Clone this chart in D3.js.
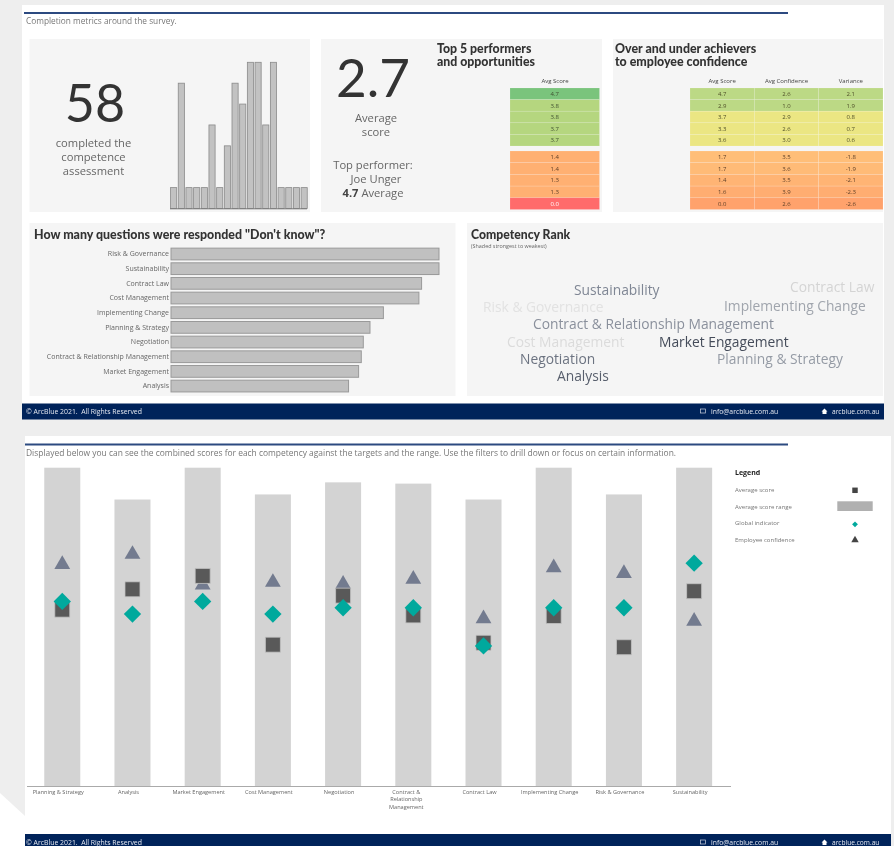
<!DOCTYPE html>
<html><head><meta charset="utf-8">
<script src="https://cdnjs.cloudflare.com/ajax/libs/d3/7.8.5/d3.min.js"></script>
<style>html,body{margin:0;padding:0;background:#eee;overflow:hidden}svg{display:block;filter:blur(.4px)}text{font-family:"Open Sans",sans-serif}.t{font-family:Lato,sans-serif}</style>
</head><body><svg id="c" width="894" height="846"></svg>
<script>
// ---- data ----
const completionBins = [1,6,1,1,1,4,1,3,6,5,7,7,4,7,1,1,1,1];
const completedCount = "58";
const averageScore = "2.7";
const topScores = [4.7,3.8,3.8,3.7,3.7];
const lowScores = [1.4,1.4,1.3,1.3,0.0];
const overScore = [4.7,2.9,3.7,3.3,3.6];
const overConfidence = [2.6,1.0,2.9,2.6,3.0];
const overVariance = [2.1,1.9,0.8,0.7,0.6];
const underScore = [1.7,1.7,1.4,1.6,0.0];
const underConfidence = [3.5,3.6,3.5,3.9,2.6];
const underVariance = [-1.8,-1.9,-2.1,-2.3,-2.6];
const dkCategories = ["Risk & Governance","Sustainability","Contract Law","Cost Management","Implementing Change","Planning & Strategy","Negotiation","Contract & Relationship Management","Market Engagement","Analysis"];
const dkValues = [40,40,37.4,37,31.7,29.7,28.7,28.4,28,26.5];
const rankOrder = ["Market Engagement","Analysis","Negotiation","Sustainability","Contract & Relationship Management","Planning & Strategy","Implementing Change","Contract Law","Cost Management","Risk & Governance"];
const competencies = ["Planning & Strategy","Analysis","Market Engagement","Cost Management","Negotiation","Contract & Relationship Management","Contract Law","Implementing Change","Risk & Governance","Sustainability"];
const rangeMax = [5,4.5,5,4.58,4.77,4.75,4.5,5,4.58,5];
const avgScore = [2.77,3.09,3.3,2.22,2.99,2.68,2.25,2.67,2.18,3.06];
const globalIndicator = [2.9,2.7,2.9,2.7,2.8,2.8,2.2,2.8,2.8,3.5];
const confidence = [3.48,3.64,3.16,3.2,3.17,3.25,2.63,3.43,3.34,2.59];
const legendLabels = ["Average score","Average score range","Global indicator","Employee confidence"];

// ---- word placement (layout only) ----
const wordPlace = {
 "Sustainability":[574,295],"Contract Law":[790,292],"Risk & Governance":[483,312],"Implementing Change":[724,311],
 "Contract & Relationship Management":[533,329],"Cost Management":[507,347],"Market Engagement":[659,347],
 "Negotiation":[520,364],"Planning & Strategy":[717,364],"Analysis":[557,381]};

const svg = d3.select("#c");
const NAVY="#00235a", CARD="#f5f5f5", TXT="#666";
function rect(x,y,w,h,f){return svg.append("rect").attr("x",x).attr("y",y).attr("width",w).attr("height",h).attr("fill",f);}
function text(x,y,s,size,col,anchor,weight){return svg.append("text").attr("x",x).attr("y",y).text(s).attr("font-size",size).attr("fill",col||TXT).attr("text-anchor",anchor||"start").attr("font-weight",weight||400);}
function title(x,y,s,size){return text(x,y,s,size,"#333","start",900).attr("class","t");}
function title2(x,y,lines,size){
  const t=title(x,y,"",size);
  lines.forEach((s,i)=>t.append("tspan").attr("x",x).attr("y",y+i*13).text(s));
}

// page
svg.append("path").attr("d","M0,793L25,816L25,846L0,846Z").attr("fill","#fff");
rect(22,5,862,399,"#fff");
rect(25,436,866,398,"#fff");
rect(24,12,764,2,"#2c4a80");
rect(25,443.5,763,2,"#2c4a80");
text(26,23.5,"Completion metrics around the survey.",8.3,"#777");
text(26,456,"Displayed below you can see the combined scores for each competency against the targets and the range. Use the filters to drill down or focus on certain information.",8.43,"#777");

// cards
[[29.5,39,280.5,173],[321,39,281,173],[613,39,270,173],[29.5,223,426,173],[467,223,416,173]].forEach(c=>rect(c[0],c[1],c[2],c[3],CARD));

// footers
function footer(x,y,w,h,base){
  rect(x,y,w,h,NAVY);
  text(26,base,"© ArcBlue 2021.\u00a0\u00a0All Rights Reserved",6.9,"#e4e8f0");
  text(711,base,"info@arcblue.com.au",6.8,"#e4e8f0");
  text(832,base,"arcblue.com.au",6.6,"#e4e8f0");
  svg.append("rect").attr("x",700.5).attr("y",base-5).attr("width",5).attr("height",4).attr("fill","none").attr("stroke","#cdd3df").attr("stroke-width",.7);
  svg.append("path").attr("d",`M821.5,${base-2.5}L824.5,${base-5.5}L827.5,${base-2.5}L826.5,${base-2.5}L826.5,${base}L822.5,${base}L822.5,${base-2.5}Z`).attr("fill","#fff");
}
footer(22,403.5,862,16,414);
footer(25,834,866,12,845);

// card 1
text(95,122,completedCount,52,"#333","middle",400).attr("class","t");
["completed the","competence","assessment"].forEach((s,i)=>text(93.5,147+i*14,s,11.2,TXT,"middle"));
const hx=d3.scaleBand().domain(d3.range(completionBins.length)).range([169.8,308]).paddingInner(.2).paddingOuter(.1);
const hy=d3.scaleLinear().domain([0,7]).range([208.5,62.3]);
svg.append("g").selectAll("rect").data(completionBins).join("rect")
 .attr("x",(d,i)=>hx(i)).attr("y",d=>hy(d)).attr("width",hx.bandwidth()).attr("height",d=>hy(0)-hy(d))
 .attr("fill","#c2c2c2").attr("stroke","#8a8a8a").attr("stroke-width",.8);
svg.append("line").attr("x1",170).attr("x2",307).attr("y1",208.8).attr("y2",208.8).attr("stroke","#777").attr("stroke-width",1);

// card 2
text(373,97,averageScore,53,"#333","middle",400).attr("class","t");
["Average","score"].forEach((s,i)=>text(376,122+i*14,s,11.2,TXT,"middle"));
text(373,169,"Top performer:",11.2,TXT,"middle");
text(376,183,"Joe Unger",11.2,TXT,"middle");
const tp=text(373,197,"",11.2,TXT,"middle");
tp.append("tspan").text("4.7").attr("font-weight",700).attr("fill","#444");
tp.append("tspan").text(" Average");
title2(437,53,["Top 5 performers","and opportunities"],12.3);
title2(615,53,["Over and under achievers","to employee confidence"],12.4);

const scoreCol=d3.scaleThreshold().domain([0.5,2,4]).range(["#ff6b6b","#ffb072","#b5d67f","#7ac47c"]);
function column(vals,x,w,y0,y1,colour,txtCol){
  const y=d3.scaleBand().domain(d3.range(vals.length)).range([y0,y1]);
  const g=svg.append("g");
  g.selectAll("rect").data(vals).join("rect").attr("x",x).attr("width",w).attr("y",(d,i)=>y(i)).attr("height",y.bandwidth())
    .attr("fill",colour).attr("stroke","#fff").attr("stroke-opacity",.22).attr("stroke-width",.6);
  g.selectAll("text").data(vals).join("text").attr("x",x+w/2).attr("y",(d,i)=>y(i)+y.bandwidth()/2+2.2).attr("text-anchor","middle")
    .attr("font-size",6).attr("fill",txtCol).text(d=>d.toFixed(1));
}
text(555,83,"Avg Score",6,"#444","middle");
column(topScores,510,89.5,88,146,(d,i)=>scoreCol(d),"#3f4f30");
column(lowScores,510,89.5,151,209.5,d=>scoreCol(d),d=>d===0?"#fff":"#5f4028");

const varCol=v=>v<0?d3.scaleLinear().domain([-2.6,-1.8]).range(["#ffa26c","#ffbe78"])(v):(v>=1?"#bcd985":"#ebe683");
const colX=d3.scaleBand().domain(["Avg Score","Avg Confidence","Variance"]).range([690,883]);
colX.domain().forEach(h=>text(colX(h)+colX.bandwidth()/2,83,h,6,"#444","middle"));
[overScore,overConfidence,overVariance].forEach((vals,k)=>{
  const h=colX.domain()[k];
  column(vals,colX(h),colX.bandwidth(),88,146,(d,i)=>varCol(overVariance[i]),"#4f4f28");
});
[underScore,underConfidence,underVariance].forEach((vals,k)=>{
  const h=colX.domain()[k];
  column(vals,colX(h),colX.bandwidth(),151,209.5,(d,i)=>varCol(underVariance[i]),"#5f4028");
});

// card 4
title(34,238.5,'How many questions were responded "Don\'t know"?',12.4);
const dx=d3.scaleLinear().domain([0,40]).range([171,439]);
const dy=d3.scaleBand().domain(dkCategories).range([246.67,393.4]).paddingInner(.2).paddingOuter(.1);
svg.append("g").selectAll("rect").data(dkValues).join("rect")
 .attr("x",dx(0)).attr("y",(d,i)=>dy(dkCategories[i])).attr("width",d=>dx(d)-dx(0)).attr("height",dy.bandwidth())
 .attr("fill","#c0c0c0").attr("stroke","#999").attr("stroke-width",1);
svg.append("g").selectAll("text").data(dkCategories).join("text")
 .attr("x",169).attr("y",d=>dy(d)+dy.bandwidth()/2+2.3).attr("text-anchor","end").attr("font-size",7).attr("fill",TXT).text(d=>d);

// card 5
title(471,239,"Competency Rank",12.2);
text(471,247.5,"(Shaded strongest to weakest)",5.4,"#666");
const wordCol=d3.scaleLinear().domain([0,3,6,7,9]).range(["#454c5a","#7f8694","#a0a5ad","#d4d4d4","#e2e2e2"]);
svg.append("g").selectAll("text").data(rankOrder).join("text")
 .attr("x",d=>wordPlace[d][0]).attr("y",d=>wordPlace[d][1]).attr("font-size",13.8)
 .attr("fill",(d,i)=>wordCol(i)).text(d=>d);

// lower chart
const x=d3.scaleBand().domain(competencies).range([27.2,729.2]).paddingInner(.487).paddingOuter(.243);
const y=d3.scaleLinear().domain([0,5]).range([786,467.7]);
const cx=d=>x(d)+x.bandwidth()/2;
svg.append("g").selectAll("rect").data(rangeMax).join("rect")
 .attr("x",(d,i)=>x(competencies[i])).attr("width",x.bandwidth()).attr("y",d=>y(d)).attr("height",d=>y(0)-y(d))
 .attr("fill","#d3d3d3");
const sym=(type,size)=>d3.symbol().type(type).size(size)();
svg.append("g").selectAll("path").data(confidence).join("path").attr("d",sym(d3.symbolTriangle,108))
 .attr("transform",(d,i)=>`translate(${cx(competencies[i])},${y(d)})`).attr("fill","#737b8f");
svg.append("g").selectAll("path").data(avgScore).join("path").attr("d",sym(d3.symbolSquare,225))
 .attr("transform",(d,i)=>`translate(${cx(competencies[i])},${y(d)})`).attr("fill","#595959").attr("stroke","#c4c4c4").attr("stroke-width",.8);
svg.append("g").selectAll("path").data(globalIndicator).join("path").attr("d",sym(d3.symbolSquare,150))
 .attr("transform",(d,i)=>`translate(${cx(competencies[i])},${y(d)}) rotate(45)`).attr("fill","#00a99d");

const axis=svg.append("g").attr("transform","translate(0,786)").call(d3.axisBottom(x).tickSize(0).tickPadding(0));
axis.select(".domain").attr("stroke","#aaa").attr("stroke-width",1).attr("d","M27,0.5H731");
axis.selectAll(".tick text").attr("font-size",5.6).attr("fill",TXT).attr("font-family",'"Open Sans",sans-serif').each(function(d){
  const t=d3.select(this); t.text(null).attr("y",0).attr("dy",null);
  const wrapped=d==="Contract & Relationship Management";
  const lines=wrapped?["Contract &","Relationship","Management"]:[d];
  lines.forEach((s,i)=>t.append("tspan").attr("x",wrapped?-7:-4).attr("y",7.6+i*7.6).text(s));
});

// legend
text(735,475,"Legend",7,"#222","start",700);
legendLabels.forEach((s,i)=>text(735,[492,508.7,525,541.7][i],s,6,"#777"));
svg.append("path").attr("d",sym(d3.symbolSquare,30)).attr("transform","translate(855,490.3)").attr("fill","#444");
rect(837.3,501.3,35.4,9.7,"#b0b0b0");
svg.append("path").attr("d",sym(d3.symbolSquare,17)).attr("transform","translate(855,524.3) rotate(45)").attr("fill","#00a99d");
svg.append("path").attr("d",sym(d3.symbolTriangle,24)).attr("transform","translate(855,540)").attr("fill","#444");
</script></body></html>
